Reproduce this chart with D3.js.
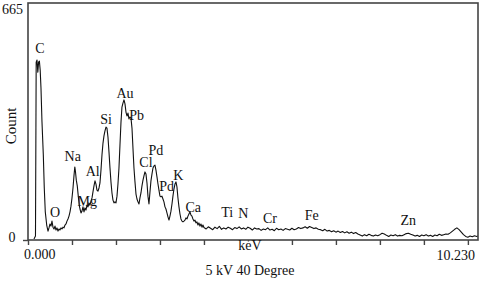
<!DOCTYPE html>
<html><head><meta charset="utf-8">
<script src="https://cdn.jsdelivr.net/npm/d3@7/dist/d3.min.js"></script>
<style>html,body{margin:0;padding:0;background:#fff;} svg{display:block;}</style>
</head><body><svg id="c" width="480" height="284"></svg>
<script>
// ---- data ----
const energyKeV = [
 0.136,0.170,0.186,0.205,0.223,0.241,0.259,0.277,0.295,0.318,0.348,0.370,0.393,0.425,0.455,0.477,0.500,0.523,0.545,0.568,
 0.591,0.614,0.636,0.659,0.682,0.705,0.727,0.750,0.773,0.795,0.818,0.841,0.864,0.886,0.909,0.932,0.955,0.977,1.000,1.023,
 1.045,1.064,1.080,1.098,1.120,1.143,1.164,1.182,1.205,1.227,1.250,1.273,1.295,1.318,1.341,1.364,1.386,1.409,1.432,1.455,
 1.477,1.500,1.523,1.545,1.568,1.591,1.614,1.636,1.659,1.682,1.705,1.727,1.750,1.773,1.795,1.818,1.841,1.864,1.886,1.909,
 1.932,1.955,1.977,2.000,2.023,2.045,2.068,2.091,2.114,2.136,2.159,2.182,2.205,2.227,2.250,2.273,2.295,2.318,2.341,2.364,
 2.386,2.409,2.432,2.455,2.477,2.500,2.523,2.545,2.568,2.591,2.614,2.636,2.659,2.682,2.705,2.727,2.750,2.773,2.795,2.818,
 2.841,2.864,2.886,2.909,2.932,2.955,2.977,3.000,3.023,3.045,3.068,3.091,3.114,3.136,3.159,3.182,3.205,3.227,3.250,3.273,
 3.295,3.318,3.341,3.364,3.386,3.409,3.432,3.455,3.477,3.500,3.523,3.545,3.568,3.591,3.614,3.636,3.659,3.682,3.705,3.727,
 3.750,3.773,3.795,3.818,3.841,3.864,3.886,3.909,3.932,3.955,3.977,
 4.00,4.05,4.10,4.15,4.20,4.25,4.30,4.35,4.40,4.45,4.50,4.55,4.60,4.65,4.70,4.75,4.80,4.85,4.90,4.95,5.00,5.05,5.10,5.15,5.20,
 5.25,5.30,5.35,5.40,5.45,5.50,5.55,5.60,5.65,5.70,5.75,5.80,5.85,5.90,5.95,6.00,6.05,6.10,6.15,6.20,
 6.25,6.30,6.35,6.40,6.45,6.50,6.55,6.60,
 6.65,6.70,6.75,6.80,6.85,6.90,6.95,7.00,7.05,7.10,7.15,7.20,7.25,7.30,7.35,7.40,7.45,7.50,
 7.55,7.60,7.65,7.70,7.75,7.80,7.85,7.90,7.95,8.00,8.05,8.10,8.15,8.20,8.25,8.30,8.35,8.40,8.45,8.50,
 8.55,8.60,8.65,8.70,8.75,8.80,8.85,8.90,8.95,9.00,9.05,9.10,9.15,9.20,9.25,9.30,9.35,9.40,
 9.45,9.50,9.55,9.60,9.65,9.70,9.75,9.80,9.85,9.90,9.95,10.00,10.05,10.10,10.15,10.20,10.23
];
const counts = [
 3,11,499,505,471,499,502,477,427,331,239,146,79,42,25,34,45,39,53,36,
 31,39,28,34,25,31,28,34,31,36,34,42,45,53,59,67,79,95,118,146,
 180,205,191,168,152,123,98,87,76,81,93,79,90,84,98,93,104,98,109,118,
 135,152,166,157,140,137,146,160,196,239,272,292,306,317,314,289,247,202,163,132,
 112,104,107,104,123,157,202,267,331,373,384,393,382,359,348,356,340,345,342,314,
 258,202,163,129,115,107,101,118,132,152,168,180,191,185,160,123,101,135,166,185,
 202,208,210,196,177,157,140,123,121,123,115,107,93,87,76,65,56,67,81,101,
 123,143,157,163,149,118,93,73,59,53,51,53,56,62,59,67,73,79,70,67,
 59,53,56,48,51,42,48,39,45,36,42,
 35,31,37,33,29,36,32,38,30,34,31,36,33,29,35,32,37,31,34,30,36,33,28,34,31,
 32,27,31,29,34,28,30,26,33,29,31,27,32,30,28,33,29,31,35,32,
 34,37,33,38,35,32,34,30,
 29,26,30,25,27,23,26,22,25,21,24,20,23,19,22,18,21,17,
 14,11,15,12,16,13,11,14,12,15,19,17,13,10,14,12,15,11,13,12,
 15,18,19,16,14,11,13,10,14,12,15,11,13,10,14,12,16,13,
 15,17,16,20,25,30,34,29,22,15,10,8,11,9,12,10,11
];
// element labels: name, label centre energy (keV), label centre height (counts)
const peakNames  = ["C","O","Na","Mg","Al","Si","Au","Pb","Cl","Pd","Pd","K","Ca","Ti","N","Cr","Fe","Zn"];
const peakEnergy = [0.273,0.614,1.016,1.348,1.470,1.773,2.205,2.470,2.682,2.909,3.152,3.416,3.757,4.530,4.893,5.500,6.448,8.643];
const peakCount  = [539,77,236,109,193,339,413,351,219,253,152,182,93,79,75,61,70,56];
const xTickValues = [0,1,2,3,4,5,6,7,8,9,10];
const xEndLabels = ["0.000","10.230"];
const yEndLabels = ["0","665"];
const xMax = 10.23, yMax = 665;

// ---- drawing ----
const svg = d3.select("#c");
const font = "'Liberation Serif','Times New Roman',Times,serif";
const x = d3.scaleLinear().domain([0, xMax]).range([28, 478]);
const y = d3.scaleLinear().domain([0, yMax]).range([240, 3]);

svg.append("rect").attr("width",480).attr("height",284).attr("fill","#fff");

// spectrum
const pts = energyKeV.map((e,i)=>[e, counts[i]]);
svg.append("path").datum(pts)
  .attr("d", d3.line().x(d=>x(d[0])).y(d=>y(d[1])))
  .attr("fill","none").attr("stroke","#111").attr("stroke-width",1.1)
  .attr("stroke-linejoin","round");

// frame
svg.append("rect").attr("x",x(0)).attr("y",y(yMax))
  .attr("width",x(xMax)-x(0)).attr("height",y(0)-y(yMax))
  .attr("fill","none").attr("stroke","#444").attr("stroke-width",1.6);

// x axis ticks
const xa = svg.append("g").attr("transform",`translate(0,${y(0)})`)
  .call(d3.axisBottom(x).tickValues(xTickValues).tickSize(5).tickFormat(""));
xa.select(".domain").remove();
xa.selectAll(".tick line").attr("stroke","#444").attr("stroke-width",1.4);

// y axis tick at 0
const ya = svg.append("g").attr("transform",`translate(${x(0)},0)`)
  .call(d3.axisLeft(y).tickValues([0]).tickSize(5).tickFormat(""));
ya.select(".domain").remove();
ya.selectAll(".tick line").attr("stroke","#444").attr("stroke-width",1.4);

// end labels
const txt = (t,px,py,anchor,size)=>svg.append("text").text(t).attr("x",px).attr("y",py)
  .attr("text-anchor",anchor).attr("font-family",font).attr("font-size",size).attr("fill","#111");
txt(xEndLabels[0], x(0)-4, 259, "start", 14);
txt(xEndLabels[1], x(xMax)-3, 260, "end", 14);
txt(yEndLabels[0], 15.5, 242, "end", 14);
txt(yEndLabels[1], 23, 13.5, "end", 14);
// "keV" sits on a white patch that hides the 5 keV tick
svg.append("rect").attr("x",236).attr("y",241.5).attr("width",28).attr("height",11).attr("fill","#fff");
txt("keV", 250, 250, "middle", 14);
txt("5 kV 40 Degree", 250, 275, "middle", 14);
svg.append("text").text("Count")
  .attr("transform","translate(15.5,126) rotate(-90)")
  .attr("text-anchor","middle").attr("font-family",font).attr("font-size",15).attr("fill","#111");

// element labels
svg.append("g").selectAll("text").data(peakNames).join("text")
  .text(d=>d)
  .attr("x",(d,i)=>x(peakEnergy[i]))
  .attr("y",(d,i)=>y(peakCount[i]))
  .attr("dy","0.35em")
  .attr("text-anchor","middle").attr("font-family",font).attr("font-size",14).attr("fill","#111");
</script></body></html>
